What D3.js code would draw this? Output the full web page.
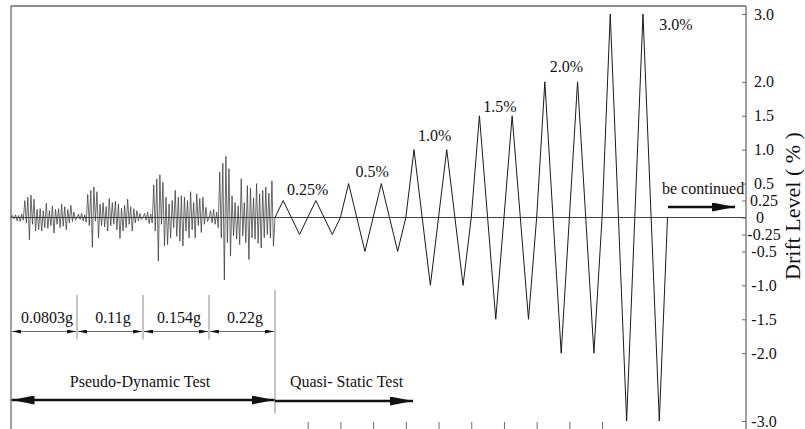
<!DOCTYPE html>
<html>
<head>
<meta charset="utf-8">
<script src="https://cdn.jsdelivr.net/npm/d3@7"></script>
<style>
  html, body { margin: 0; padding: 0; background: #fff; }
  svg { display: block; }
  text { font-family: "Liberation Serif", "Times New Roman", serif; fill: #111; }
</style>
</head>
<body>
<svg id="chart" width="805" height="429"></svg>
<script>
// ---- Data -------------------------------------------------------------
// Pseudo-dynamic drift history (%), one run per ground-motion intensity
const pgaLabels = ["0.0803g", "0.11g", "0.154g", "0.22g"];
const pdDrift1 = [0, 0.03, -0.02, 0.04, -0.05, 0.03, -0.06, 0.05, -0.04, 0.25, -0.08, 0.30, -0.33, 0.33, -0.10, 0.27,
  -0.20, 0.12, -0.18, 0.13, -0.20, 0.10, -0.15, 0.21, -0.16, 0.10, -0.12, 0.17, -0.23, 0.12, -0.10, 0.13,
  -0.15, 0.20, -0.13, 0.16, -0.18, 0.12, -0.08, 0.18, -0.06, 0.08, -0.04, 0];
const pdDrift2 = [0, 0.05, -0.03, 0.06, -0.05, 0.04, -0.07, 0.34, -0.12, 0.40, -0.44, 0.45, -0.05, 0.38, -0.30, 0.20,
  -0.12, 0.22, -0.14, 0.16, -0.20, 0.28, -0.12, 0.22, -0.10, 0.24, -0.18, 0.20, -0.31, 0.14, -0.20, 0.18,
  -0.15, 0.27, -0.10, 0.16, -0.20, 0.13, -0.08, 0.10, -0.05, 0.06, -0.03, 0];
const pdDrift3 = [0, 0.06, -0.04, 0.08, -0.09, 0.05, -0.08, 0.48, -0.20, 0.57, -0.64, 0.63, -0.10, 0.52, -0.42, 0.30,
  -0.40, 0.20, -0.30, 0.25, -0.15, 0.40, -0.28, 0.30, -0.35, 0.32, -0.42, 0.30, -0.20, 0.25, -0.30, 0.38,
  -0.18, 0.22, -0.30, 0.35, -0.12, 0.28, -0.22, 0.30, -0.10, 0.15, -0.06, 0];
const pdDrift4 = [0, 0.10, -0.08, 0.12, -0.10, 0.08, -0.15, 0.67, -0.30, 0.80, -0.92, 0.90, -0.37, 0.72, -0.57, 0.32,
  -0.27, 0.22, -0.32, 0.17, -0.40, 0.57, -0.27, 0.22, -0.37, 0.47, -0.62, 0.43, -0.30, 0.29, -0.32, 0.50,
  -0.38, 0.35, -0.45, 0.40, -0.30, 0.45, -0.25, 0.36, -0.30, 0.54, -0.42, 0];
const pdRuns = [pdDrift1, pdDrift2, pdDrift3, pdDrift4];

// Quasi-static drift amplitudes (%), two full cycles each
const qsLevels = [0.25, 0.5, 1.0, 1.5, 2.0, 3.0];
const qsLabels = ["0.25%", "0.5%", "1.0%", "1.5%", "2.0%", "3.0%"];

// Right-hand drift axis
const driftTicks = [3, 2, 1.5, 1, 0.5, 0.25, 0, -0.25, -0.5, -1, -1.5, -2, -3];
const driftTickLabels = ["3.0", "2.0", "1.5", "1.0", "0.5", "0.25", "0", "-0.25", "-0.5", "-1.0", "-1.5", "-2.0", "-3.0"];
const axisTitle = "Drift Level ( % )";

// Cycle marks along the time axis (one per quasi-static cycle)
const cycleTicks = [9, 10, 11, 12, 13, 14, 15, 16, 17, 18];

const phaseLabels = ["Pseudo-Dynamic Test", "Quasi- Static Test"];
const noteLabel = "be continued";

// ---- Layout -------------------------------------------------------------
const W = 805, H = 429;
const frameLeft = 11, frameRight = 746, frameTop = 6;
const svg = d3.select("#chart");

// time: each pseudo-dynamic run and each quasi-static level spans 2 units
const x = d3.scaleLinear().domain([0, 8, 22.4]).range([frameLeft, 275, frameRight]);
const y = d3.scaleLinear().domain([-3, 3]).range([421, 14]);

const frameColor = "#6b6b6b";
const inkColor = "#111";

// arrowhead markers
const defs = svg.append("defs");
function marker(id, len, half) {
  defs.append("marker")
    .attr("id", id)
    .attr("viewBox", `0 ${-half} ${len} ${2 * half}`)
    .attr("refX", len).attr("refY", 0)
    .attr("markerUnits", "userSpaceOnUse")
    .attr("markerWidth", len).attr("markerHeight", 2 * half)
    .attr("orient", "auto-start-reverse")
    .append("path")
    .attr("d", `M0,${-half}L${len},0L0,${half}Z`)
    .attr("fill", inkColor);
}
marker("bigHead", 23, 4.5);
marker("smallHead", 9, 2);

// ---- Frame --------------------------------------------------------------
svg.append("line").attr("x1", frameLeft).attr("x2", frameRight).attr("y1", frameTop).attr("y2", frameTop)
  .attr("stroke", frameColor).attr("stroke-width", 1.3);
svg.append("line").attr("x1", frameLeft).attr("x2", frameLeft).attr("y1", frameTop).attr("y2", H + 5)
  .attr("stroke", frameColor).attr("stroke-width", 1.3);
svg.append("line").attr("x1", frameRight).attr("x2", frameRight).attr("y1", frameTop).attr("y2", H + 5)
  .attr("stroke", frameColor).attr("stroke-width", 1.3);

// zero line
svg.append("line").attr("x1", frameLeft).attr("x2", frameRight).attr("y1", y(0)).attr("y2", y(0))
  .attr("stroke", "#444").attr("stroke-width", 1);

// drift axis on the right, ticks pointing inward
const yAxis = d3.axisRight(y)
  .tickValues(driftTicks)
  .tickSizeInner(-4).tickSizeOuter(0)
  .tickPadding(0)
  .tickFormat((d, i) => driftTickLabels[i]);
const gy = svg.append("g").attr("transform", `translate(${frameRight},0)`).call(yAxis);
gy.select(".domain").remove();
gy.selectAll(".tick line").attr("stroke", frameColor).attr("stroke-width", 1);
gy.selectAll(".tick text")
  .attr("x", d => d === 0 ? 14 : 18)
  .attr("text-anchor", "middle")
  .attr("font-size", 16)
  .attr("fill", inkColor)
  .style("font-family", '"Liberation Serif", "Times New Roman", serif');

svg.append("text")
  .attr("transform", `translate(800,206) rotate(-90)`)
  .attr("text-anchor", "middle")
  .attr("font-size", 22)
  .text(axisTitle);

// cycle marks along the bottom, drawn upward from an axis below the view
const xAxis = d3.axisBottom(x).tickValues(cycleTicks).tickSizeInner(-10).tickSizeOuter(0).tickFormat("");
const gx = svg.append("g").attr("transform", `translate(0,${H + 3})`).call(xAxis);
gx.select(".domain").remove();
gx.selectAll(".tick line").attr("stroke", frameColor).attr("stroke-width", 1);

// ---- Drift history ----------------------------------------------------------
const line = d3.line().x(d => x(d.t)).y(d => y(d.v));

// pseudo-dynamic runs, samples spread evenly over each run's window
const pdPoints = [];
pdRuns.forEach((run, i) => {
  run.forEach((v, k) => {
    if (i > 0 && k === 0) return;
    pdPoints.push({ t: 2 * i + 2 * k / (run.length - 1), v });
  });
});
svg.append("path").datum(pdPoints).attr("d", line)
  .attr("fill", "none").attr("stroke", "#3a3a3a").attr("stroke-width", 0.75)
  .attr("stroke-linejoin", "round");

// quasi-static triangular cycles: peaks at 1/4, troughs at 3/4 of each cycle
const qsPhase = [0, 0.25, 0.75, 1.25, 1.75, 2];
const qsSign = [0, 1, -1, 1, -1, 0];
const qsPoints = [];
qsLevels.forEach((L, j) => {
  qsPhase.forEach((p, k) => {
    if (j > 0 && k === 0) return;
    qsPoints.push({ t: 8 + 2 * j + p, v: qsSign[k] * L });
  });
});
svg.append("path").datum(qsPoints).attr("d", line)
  .attr("fill", "none").attr("stroke", "#1a1a1a").attr("stroke-width", 1)
  .attr("stroke-linejoin", "miter");

// level labels above each pair of cycles
const qsLabelShift = [[0, -5.5], [-1, -7], [-4, -9], [-4, -4], [-3, -10], [41, 16]];
qsLevels.forEach((L, j) => {
  svg.append("text")
    .attr("x", x(9 + 2 * j) + qsLabelShift[j][0])
    .attr("y", y(L) + qsLabelShift[j][1])
    .attr("text-anchor", "middle")
    .attr("font-size", 16)
    .text(qsLabels[j]);
});

// ---- Test-phase annotations --------------------------------------------------
const dimY = 331.5;
// boundaries between pseudo-dynamic runs
[2, 4, 6].forEach(t => {
  svg.append("line").attr("x1", x(t)).attr("x2", x(t)).attr("y1", 295).attr("y2", 339.5)
    .attr("stroke", "#8a8a8a").attr("stroke-width", 1);
});
svg.append("line").attr("x1", x(8)).attr("x2", x(8)).attr("y1", 290).attr("y2", 413.5)
  .attr("stroke", "#8a8a8a").attr("stroke-width", 1);

pgaLabels.forEach((lab, i) => {
  svg.append("line")
    .attr("x1", x(2 * i) + 1).attr("x2", x(2 * i + 2) - 1)
    .attr("y1", dimY).attr("y2", dimY)
    .attr("stroke", "#444").attr("stroke-width", 0.8)
    .attr("marker-start", "url(#smallHead)").attr("marker-end", "url(#smallHead)");
  svg.append("text")
    .attr("x", x(2 * i + 1) + 3).attr("y", 323)
    .attr("text-anchor", "middle").attr("font-size", 16)
    .text(lab);
});

// phase arrows
svg.append("line").attr("x1", x(0) + 0.5).attr("x2", x(8) - 0.5).attr("y1", 400).attr("y2", 400)
  .attr("stroke", inkColor).attr("stroke-width", 2.5)
  .attr("marker-start", "url(#bigHead)").attr("marker-end", "url(#bigHead)");
svg.append("text").attr("x", 140).attr("y", 387).attr("text-anchor", "middle").attr("font-size", 16)
  .text(phaseLabels[0]);

svg.append("line").attr("x1", x(8)).attr("x2", 413).attr("y1", 401).attr("y2", 401)
  .attr("stroke", inkColor).attr("stroke-width", 2.5)
  .attr("marker-end", "url(#bigHead)");
svg.append("text").attr("x", 346.5).attr("y", 387).attr("text-anchor", "middle").attr("font-size", 16)
  .text(phaseLabels[1]);

// continuation note
svg.append("text").attr("x", 662).attr("y", 194).attr("font-size", 16).text(noteLabel);
svg.append("line").attr("x1", 668).attr("x2", 735).attr("y1", 207).attr("y2", 207)
  .attr("stroke", inkColor).attr("stroke-width", 2.5)
  .attr("marker-end", "url(#bigHead)");
</script>
</body>
</html>
